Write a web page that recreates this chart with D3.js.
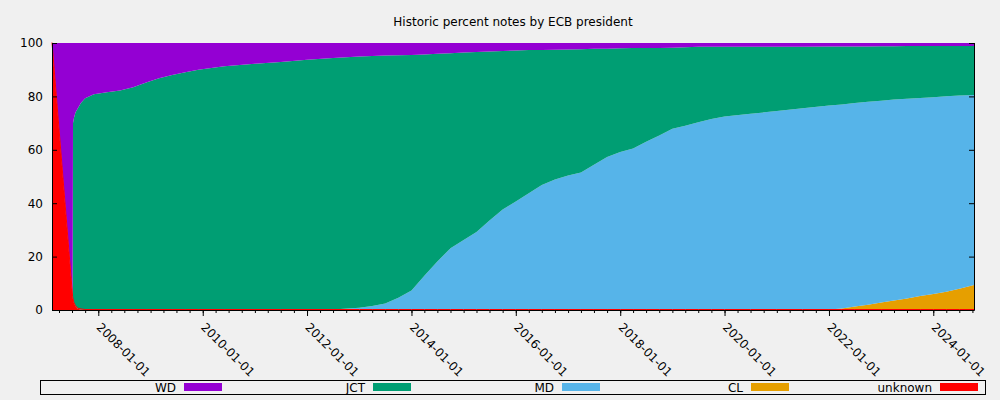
<!DOCTYPE html>
<html>
<head>
<meta charset="utf-8">
<script src="https://cdnjs.cloudflare.com/ajax/libs/d3/7.8.5/d3.min.js"></script>
<style>
  body { margin: 0; background: #f0f0f0; }
  svg { display: block; font-family: "DejaVu Sans", sans-serif; }
</style>
</head>
<body>
<div id="chart"></div>
<script>
// percent of notes per president signature
var dates = ["2007-02-11","2007-07-05","2007-07-08","2007-07-15","2007-07-25","2007-08-10","2007-09-01","2007-10-01","2007-12-01",
  "2008-03-01","2008-06-01","2008-09-01","2008-12-01","2009-03-01","2009-06-01","2009-09-01","2009-12-01","2010-06-01",
  "2011-01-01","2011-07-01","2012-01-01","2012-07-01","2013-01-01","2013-04-01","2013-07-01","2013-10-01",
  "2014-01-01","2014-04-01","2014-07-01","2014-10-01","2015-01-01","2015-04-01","2015-07-01","2015-10-01",
  "2016-01-01","2016-04-01","2016-07-01","2016-10-01","2017-01-01","2017-04-01","2017-07-01","2017-10-01",
  "2018-01-01","2018-04-01","2018-07-01","2018-10-01","2019-01-01","2019-04-01","2019-07-01","2019-10-01",
  "2020-01-01","2020-07-01","2021-01-01","2021-07-01","2022-01-01","2022-04-01","2022-07-01","2022-10-01",
  "2023-01-01","2023-04-01","2023-07-01","2023-10-01","2024-01-01","2024-04-01","2024-07-01","2024-10-12"];

var unknown = [100,5,4,2.5,1.5,0.5,0.2,0,0, 0,0,0,0,0,0,0,0,0, 0,0,0,0,0,0,0,0, 0,0,0,0,0,0,0,0,
  0,0,0,0,0,0,0,0, 0,0,0,0,0,0,0,0, 0,0,0,0,0,0,0,0, 0,0,0,0,0,0,0,0];
var cl = [0,0,0,0,0,0,0,0,0, 0,0,0,0,0,0,0,0,0, 0,0,0,0,0,0,0,0, 0,0,0,0,0,0,0,0,
  0,0,0,0,0,0,0,0, 0,0,0,0,0,0,0,0, 0,0,0,0,0.2,0.6,1.3,2.0, 2.8,3.6,4.3,5.2,6.0,6.8,8.0,9.4];
var md = [0,0,0,0,0,0,0,0,0, 0,0,0,0,0,0,0,0,0, 0,0,0,0.2,0.8,1.5,2.4,4.6, 7.3,12.8,18.2,23.1,26.2,29.2,33.5,37.6,
  40.6,43.7,46.8,48.9,50.4,51.5,54.4,57.3, 59.2,60.5,63.0,65.4,67.9,69.0,70.3,71.5,
  72.5,73.5,74.5,75.6,76.4,76.4,76.2,76.0, 75.6,75.2,74.8,74.2,73.7,73.3,72.3,71.1];
var jct = [0,0,66,69.5,72.5,75,77.3,79.3,80.8, 81.6,82.2,83.4,85.2,86.8,88.0,89.0,90.0,91.3,
  92.2,92.9,93.7,94.2,94.1,93.6,92.9,90.8, 88.2,82.9,77.8,73.1,70.2,67.4,63.3,59.4,
  56.6,53.7,50.6,48.6,47.2,46.2,43.4,40.5, 38.8,37.6,35.1,32.7,30.3,29.4,28.3,27.1,
  26.1,25.1,24.1,23.0,22.1,21.7,21.2,20.7, 20.4,20.0,19.8,19.5,19.2,18.8,18.6,18.4];
var wd = [0,95,30,28,26,24.5,22.5,20.7,19.2, 18.4,17.8,16.6,14.8,13.2,12.0,11.0,10.0,8.7,
  7.8,7.1,6.3,5.6,5.1,4.9,4.7,4.6, 4.5,4.3,4.0,3.8,3.6,3.4,3.2,3.0,
  2.8,2.6,2.6,2.5,2.4,2.3,2.2,2.2, 2.0,1.9,1.9,1.9,1.8,1.6,1.4,1.4,
  1.4,1.4,1.4,1.4,1.3,1.3,1.3,1.3, 1.2,1.2,1.1,1.1,1.1,1.1,1.1,1.1];

var seriesNames = ["WD", "JCT", "MD", "CL", "unknown"];
var stackOrder = ["unknown", "CL", "MD", "JCT", "WD"];
var colors = {WD: "#9400d3", JCT: "#009e73", MD: "#56b4e9", CL: "#e69f00", unknown: "#ff0000"};
var yTicks = [0, 20, 40, 60, 80, 100];

var svgWidth = 1000;
var svgHeight = 400;
var margin = {top: 43, right: 26, bottom: 90, left: 52};
var chartWidth = svgWidth - margin.left - margin.right;
var chartHeight = svgHeight - margin.top - margin.bottom;

var parseDate = d3.timeParse("%Y-%m-%d");

var rows = dates.map(function(d, i) {
  return {date: parseDate(d), unknown: unknown[i], CL: cl[i], MD: md[i], JCT: jct[i], WD: wd[i]};
});

var svg = d3.select("#chart")
  .append("svg")
  .attr("width", svgWidth)
  .attr("height", svgHeight);

svg.append("rect")
  .attr("width", svgWidth)
  .attr("height", svgHeight)
  .attr("fill", "#f0f0f0");

svg.append("text")
  .attr("x", margin.left + chartWidth / 2)
  .attr("y", 26)
  .attr("text-anchor", "middle")
  .attr("font-size", "12px")
  .text("Historic percent notes by ECB president");

var g = svg.append("g")
  .attr("transform", `translate(${margin.left}, ${margin.top})`);

var xScale = d3.scaleTime()
  .domain([rows[0].date, rows[rows.length - 1].date])
  .range([0, chartWidth]);

var yScale = d3.scaleLinear()
  .domain([0, 100])
  .range([chartHeight, 0]);

var stacked = d3.stack().keys(stackOrder)(rows);

var area = d3.area()
  .x(d => xScale(d.data.date))
  .y0(d => yScale(d[0]))
  .y1(d => yScale(d[1]));

g.selectAll(".layer")
  .data(stacked)
  .enter()
  .append("path")
  .attr("class", "layer")
  .attr("d", area)
  .attr("fill", d => colors[d.key]);

// thin line of the zero-height unknown layer along the bottom
g.append("path")
  .datum(stacked[0])
  .attr("d", d3.line().x(d => xScale(d.data.date)).y(d => yScale(d[1])))
  .attr("fill", "none")
  .attr("stroke", colors.unknown)
  .attr("stroke-width", 1)
  .attr("transform", "translate(0,-0.5)");

// x axis: major every 2 years, minor every quarter
var minorAxis = d3.axisBottom(xScale)
  .ticks(d3.timeMonth.every(3))
  .tickSize(3)
  .tickFormat("");
var majorAxis = d3.axisBottom(xScale)
  .ticks(d3.timeYear.every(2))
  .tickSize(6)
  .tickFormat("");

g.append("g")
  .attr("transform", `translate(0, ${chartHeight})`)
  .call(minorAxis)
  .call(a => a.select(".domain").remove());

var xAxisG = g.append("g")
  .attr("transform", `translate(0, ${chartHeight})`)
  .call(majorAxis);
xAxisG.select(".domain").remove();
xAxisG.selectAll(".tick line").attr("stroke", "#000");

xAxisG.selectAll(".tick")
  .append("text")
  .attr("transform", "translate(-3,18) rotate(45)")
  .attr("text-anchor", "start")
  .attr("fill", "#000")
  .attr("font-family", "DejaVu Sans")
  .attr("font-size", "12px")
  .text(d => d3.timeFormat("%Y-%m-%d")(d));

// y axis on the left with mirrored ticks on the right, ticks inward
var leftAxis = d3.axisLeft(yScale).tickValues(yTicks).tickSize(-5).tickPadding(9);
var rightAxis = d3.axisRight(yScale).tickValues(yTicks).tickSize(-5).tickFormat("");

var yAxisG = g.append("g").call(leftAxis);
yAxisG.select(".domain").remove();
yAxisG.selectAll("text")
  .attr("fill", "#000")
  .attr("font-family", "DejaVu Sans")
  .attr("font-size", "12px");

var yRightG = g.append("g").attr("transform", `translate(${chartWidth}, 0)`).call(rightAxis);
yRightG.select(".domain").remove();

// border: left, bottom, right
g.append("path")
  .attr("d", `M0.5,0V${chartHeight + 0.5}H${chartWidth + 0.5}V0`)
  .attr("fill", "none")
  .attr("stroke", "#000")
  .attr("stroke-width", 1);

// legend
var legend = svg.append("g");
legend.append("rect")
  .attr("x", 40.5)
  .attr("y", 380.5)
  .attr("width", 945)
  .attr("height", 14)
  .attr("fill", "none")
  .attr("stroke", "#000");

var items = legend.selectAll(".item")
  .data(seriesNames)
  .enter()
  .append("g")
  .attr("transform", (d, i) => `translate(${184 + 189 * i}, 0)`);

items.append("rect")
  .attr("x", 0)
  .attr("y", 383)
  .attr("width", 38)
  .attr("height", 8)
  .attr("fill", d => colors[d]);

items.append("text")
  .attr("x", -8)
  .attr("y", 392)
  .attr("text-anchor", "end")
  .attr("font-size", "12px")
  .text(d => d);
</script>
</body>
</html>
